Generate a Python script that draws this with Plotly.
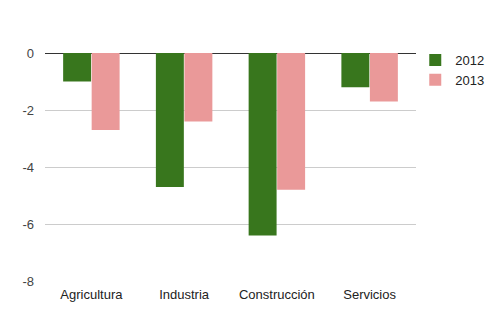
import plotly.graph_objects as go

sectors = ["Agricultura", "Industria", "Construcción", "Servicios"]
values_2012 = [-1.0, -4.7, -6.4, -1.2]
values_2013 = [-2.7, -2.4, -4.8, -1.7]
y_ticks = [0, -2, -4, -6, -8]
y_tick_labels = ["0", "-2", "-4", "-6", "-8"]

fig = go.Figure()
fig.add_trace(go.Bar(name="2012", x=sectors, y=values_2012,
                     marker=dict(color="#38761d", line=dict(width=0))))
fig.add_trace(go.Bar(name="2013", x=sectors, y=values_2013,
                     marker=dict(color="#ea9999", line=dict(width=0))))

fig.update_layout(
    width=499, height=326,
    margin=dict(l=45, r=83, t=53, b=45, autoexpand=False),
    paper_bgcolor="white", plot_bgcolor="white",
    barmode="group", bargap=0.385, bargroupgap=0.02,
    font=dict(family="Liberation Sans, Arial, sans-serif", size=13, color="#222"),
    showlegend=True,
    legend=dict(x=0.998, y=1.035, xanchor="left", yanchor="top",
                font=dict(size=13, color="#222"), itemwidth=30,
                tracegroupgap=4, bgcolor="rgba(0,0,0,0)"),
    xaxis=dict(showgrid=False, showline=False, ticks="", ticklabelstandoff=4,
               tickfont=dict(color="#222")),
    yaxis=dict(range=[-8, 0], tickvals=y_ticks, ticktext=y_tick_labels,
               showgrid=True, gridcolor="#cccccc",
               gridwidth=1, zeroline=True, zerolinecolor="#333333", zerolinewidth=1,
               showline=False, ticks="", ticklabelstandoff=10,
               tickfont=dict(color="#444")),
)

fig.write_html("out.html")
